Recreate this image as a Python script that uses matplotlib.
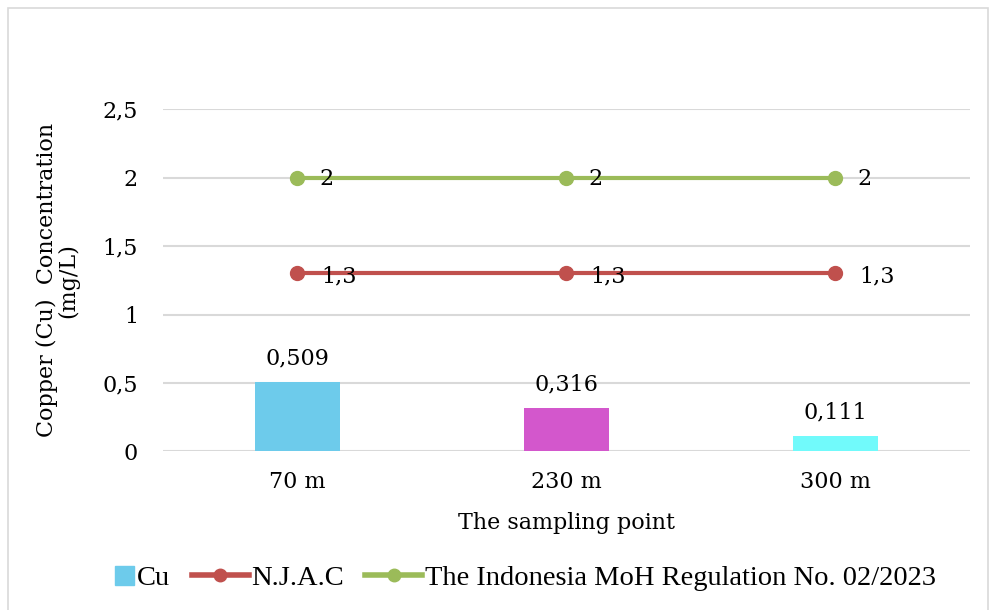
import matplotlib
matplotlib.use('Agg')
import matplotlib.pyplot as plt
import numpy as np
from matplotlib.lines import Line2D
from matplotlib.patches import Patch, Rectangle
from matplotlib.legend_handler import HandlerPatch

sites = ['70 m', '230 m', '300 m']
cu = [0.509, 0.316, 0.111]
njac = [1.3, 1.3, 1.3]
moh = [2, 2, 2]

BAR_COLORS = ['#6DCBEB', '#D357CC', '#71FAFB']
RED = '#C0504D'
GREEN = '#9BBB59'
FS = 16


def fmt(v):
    return f'{v:g}'.replace('.', ',')


def small_square(legend, orig_handle, xdescent, ydescent, width, height, fontsize):
    # square key tucked against the label, like the office-style legend
    s = height * 0.95
    return Rectangle((-xdescent + width - s, -ydescent + (height - s) / 2), s, s)


plt.rcParams['font.family'] = ['DejaVu Serif']

fig = plt.figure(figsize=(9.91, 6.10), dpi=100)
ax = fig.add_axes([0.1645, 0.26, 0.814, 0.561])

x = np.arange(len(sites))
ax.bar(x, cu, width=0.316, color=BAR_COLORS, zorder=2)
for xi, v in zip(x, cu):
    ax.annotate(fmt(v), (xi, v), xytext=(0, 9), textcoords='offset points',
                ha='center', va='bottom', fontsize=FS)

ax.plot(x, njac, color=RED, lw=3, marker='o', ms=10, zorder=3)
ax.plot(x, moh, color=GREEN, lw=3, marker='o', ms=10, zorder=3)
for xi, v in zip(x, njac):
    ax.annotate(fmt(v), (xi, v), xytext=(17, -2), textcoords='offset points',
                ha='left', va='center', fontsize=FS)
for xi, v in zip(x, moh):
    ax.annotate(fmt(v), (xi, v), xytext=(16, -1), textcoords='offset points',
                ha='left', va='center', fontsize=FS)

ax.set_xlim(-0.5, 2.5)
ax.set_ylim(0, 2.5)
yt = np.arange(0, 2.51, 0.5)
ax.set_yticks(yt)
ax.set_yticklabels([fmt(t) for t in yt], fontsize=FS)
ax.set_xticks(x)
ax.set_xticklabels(sites, fontsize=FS)
ax.tick_params(length=0)
ax.tick_params(axis='x', pad=14)
ax.tick_params(axis='y', pad=18)
ax.grid(axis='y', color='#D9D9D9', lw=1.5)
ax.set_axisbelow(True)
for s in ax.spines.values():
    s.set_visible(False)

ax.set_xlabel('The sampling point', fontsize=FS, labelpad=14)
ax.set_ylabel('Copper (Cu)  Concentration\n(mg/L)', fontsize=FS, labelpad=17,
              linespacing=0.95)

cu_key = Patch(color=BAR_COLORS[0], label='Cu')
handles = [
    cu_key,
    Line2D([], [], color=RED, lw=4, marker='o', ms=9, label='N.J.A.C'),
    Line2D([], [], color=GREEN, lw=4, marker='o', ms=9, label='The Indonesia MoH Regulation No. 02/2023'),
]
fig.legend(handles=handles, loc='center left', bbox_to_anchor=(0.078, 0.052), ncol=3,
           frameon=False, handlelength=2.0, handletextpad=0.1, borderpad=0,
           borderaxespad=0, columnspacing=0.75,
           handler_map={cu_key: HandlerPatch(patch_func=small_square)},
           prop={'family': 'Liberation Serif', 'size': 20.5})

fig.patches.append(Rectangle((0.008, -0.01), 0.989, 0.997, transform=fig.transFigure,
                             fill=False, edgecolor='#D9D9D9', lw=1.2))

fig.savefig('out.png', dpi=100)
